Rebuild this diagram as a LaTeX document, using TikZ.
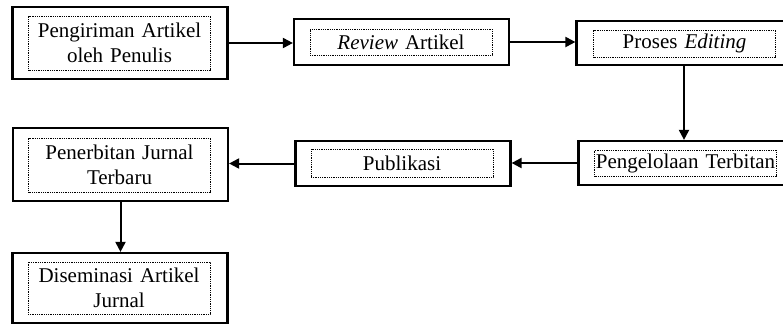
\documentclass[tikz,border=0pt]{standalone}
\usepackage{fontspec}
\setmainfont{Liberation Serif}
\usetikzlibrary{arrows.meta,positioning}

\begin{document}
\begin{tikzpicture}[
  x=1pt, y=-1pt,
  outer/.style={draw, line width=2.2pt, minimum width=215pt, inner sep=0pt},
  inner/.style={draw, line width=0.7pt, dash pattern=on 0.9pt off 0.9pt,
              minimum width=182pt, text width=180pt, inner xsep=1pt, inner ysep=0pt,
              align=center, font=\fontsize{21}{25}\selectfont},
  arr/.style={-{Triangle[length=10pt,width=10pt]}, line width=2pt},
]
\useasboundingbox (0,0) rectangle (783,325);
% top row
\node[outer, minimum height=72pt] (kirim) at (120,43) {};
\node[inner, minimum height=54pt] (kirimtxt) at (119.5,43) {Pengiriman Artikel\\oleh Penulis};
\node[outer, minimum height=46pt] (review) at (401.5,42) {};
\node[inner, minimum height=26pt] (reviewtxt) at (401,42) {\textit{Review} Artikel};
\node[outer, minimum height=44pt] (editing) at (684,43) {};
\node[inner, minimum height=27pt] (editingtxt) at (684.5,43.5) {Proses \textit{Editing}};
% middle row
\node[outer, minimum height=44pt] (kelola) at (686,163) {};
\node[inner, minimum height=26pt] (kelolatxt) at (685.5,163) {Pengelolaan Terbitan};
\node[outer, minimum height=45pt] (publikasi) at (403,163.5) {};
\node[inner, minimum height=28pt] (publikasitxt) at (402,163) {Publikasi};
\node[outer, minimum height=73pt] (terbit) at (120.5,164.5) {};
\node[inner, minimum height=54pt] (terbittxt) at (119.5,165) {Penerbitan Jurnal\\Terbaru};
% bottom
\node[outer, minimum height=70pt] (sebar) at (120,288) {};
\node[inner, minimum height=52pt] (sebartxt) at (119,288) {Diseminasi Artikel\\Jurnal};

\draw[arr] (kirim.east) -- (kirim.east -| review.west);
\draw[arr] (review.east) -- (review.east -| editing.west);
\draw[arr] (editing.south) -- (editing.south |- kelola.north);
\draw[arr] (kelola.west) -- (kelola.west -| publikasi.east);
\draw[arr] (publikasi.west) -- (publikasi.west -| terbit.east);
\draw[arr] (terbit.south) -- (terbit.south |- sebar.north);
\end{tikzpicture}
\end{document}
